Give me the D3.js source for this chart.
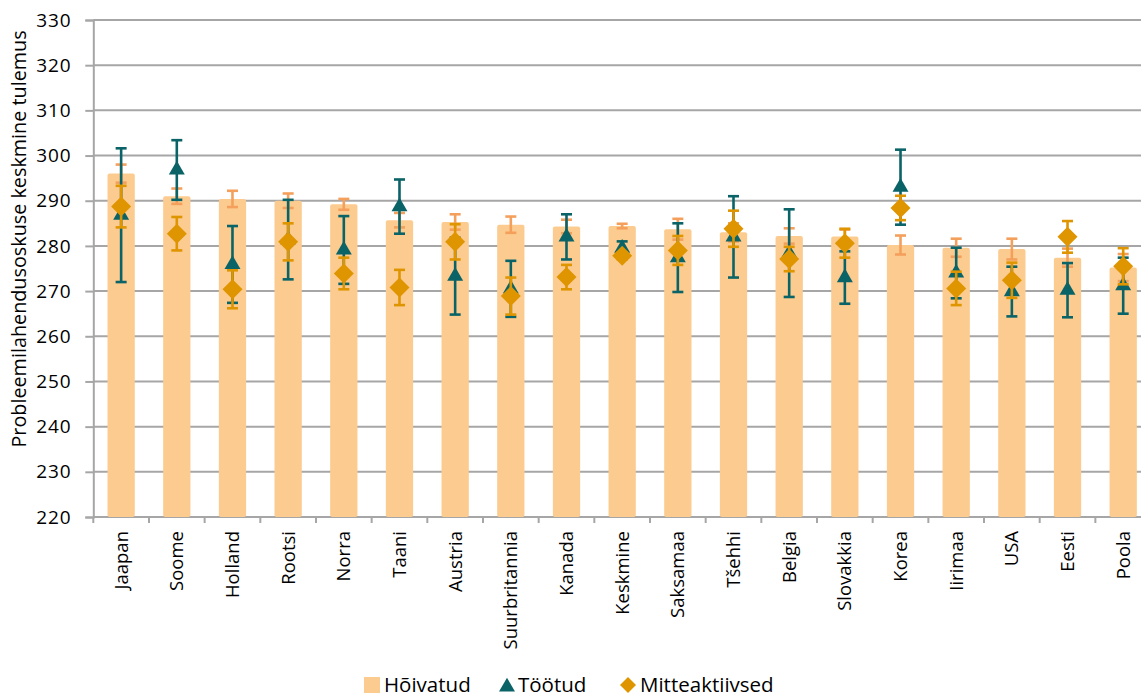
<!DOCTYPE html>
<html>
<head>
<meta charset="utf-8">
<script src="https://cdn.jsdelivr.net/npm/d3@7"></script>
<style>
  html, body { margin: 0; padding: 0; background: #fff; }
  svg text { font-family: "Open Sans", "Noto Sans", sans-serif; fill: #000; }
</style>
</head>
<body>
<svg id="chart" width="1141" height="698"></svg>
<script>
const categories = ["Jaapan","Soome","Holland","Rootsi","Norra","Taani","Austria","Suurbritannia","Kanada","Keskmine","Saksamaa","Tšehhi","Belgia","Slovakkia","Korea","Iirimaa","USA","Eesti","Poola"];
const employed    = [296, 291, 290.4, 290, 289.2, 285.7, 285.3, 284.7, 284.3, 284.4, 283.7, 283, 282.2, 282.1, 280.2, 279.6, 279.3, 277.4, 275.2];
const employedErr = [2, 1.7, 1.8, 1.6, 1.2, 1.6, 1.7, 1.8, 1.5, 0.5, 2.3, 2, 1.7, 1.5, 2.1, 2, 2.3, 2, 3];
const unemployed    = [286.8, 296.8, 275.9, 281.4, 279.1, 288.7, 273.3, 270.5, 282, 279.5, 277.4, 282, 278.4, 273, 293, 274, 269.9, 270.2, 271.2];
const unemployedErr = [14.8, 6.6, 8.5, 8.8, 7.5, 6, 8.5, 6.2, 5, 1.5, 7.6, 9, 9.7, 5.8, 8.3, 5.6, 5.5, 6, 6.2];
const inactive    = [288.7, 282.7, 270.4, 280.9, 273.9, 270.8, 280.9, 268.9, 273.1, 277.8, 279, 283.8, 277.1, 280.6, 288.4, 270.6, 272.4, 282, 275.5];
const inactiveErr = [4.6, 3.7, 4.2, 4.1, 3.5, 3.9, 3.9, 4.1, 2.7, 0.8, 3.2, 4, 2.7, 3.2, 2.7, 3.7, 3.9, 3.5, 4];
const yTicks = [220, 230, 240, 250, 260, 270, 280, 290, 300, 310, 320, 330];
const seriesNames = ["Hõivatud", "Töötud", "Mitteaktiivsed"];

const colBar = "#FCCB8F", colBarErr = "#F4A05C", colTeal = "#0A6367", colOrange = "#DF9500", colGrid = "#A6A6A6";

const svg = d3.select("#chart");
const pLeft = 93.3, pRight = 93.3 + 19 * 55.67, pTop = 20, pBottom = 517;

const x = d3.scaleBand().domain(categories).range([pLeft, pRight]).paddingInner(0.51).paddingOuter(0.255);
const y = d3.scaleLinear().domain([220, 330]).range([pBottom, pTop]);

// gridlines
svg.append("g").selectAll("line").data(yTicks.slice(1)).join("line")
  .attr("x1", pLeft).attr("x2", pRight).attr("y1", d => y(d)).attr("y2", d => y(d))
  .attr("stroke", colGrid).attr("stroke-width", 2);

// y axis
const yAxis = svg.append("g").attr("transform", `translate(${pLeft},0)`)
  .call(d3.axisLeft(y).tickValues(yTicks).tickSize(8).tickPadding(14));
yAxis.select(".domain").attr("stroke", colGrid).attr("stroke-width", 2);
yAxis.selectAll(".tick line").attr("stroke", colGrid).attr("stroke-width", 2);
yAxis.selectAll(".tick text").attr("font-size", 19).attr("letter-spacing", 0.8).attr("font-family", "Open Sans");

// x axis
const xAxisG = svg.append("g").attr("transform", `translate(0,${pBottom})`);
xAxisG.append("line").attr("x1", pLeft).attr("x2", pRight).attr("stroke", colGrid).attr("stroke-width", 2);
const bounds = d3.range(categories.length + 1).map(i => pLeft + i * x.step());
xAxisG.selectAll("line.tk").data(bounds).join("line").attr("class", "tk")
  .attr("x1", d => d).attr("x2", d => d).attr("y1", 0).attr("y2", 6)
  .attr("stroke", colGrid).attr("stroke-width", 2);
xAxisG.selectAll("text").data(categories).join("text")
  .attr("transform", d => `translate(${x(d) + x.bandwidth() / 2 + 6.5},14) rotate(-90)`)
  .attr("text-anchor", "end").attr("font-size", 18.5).text(d => d);

// y title
svg.append("text").attr("transform", "translate(26,239) rotate(-90)")
  .attr("text-anchor", "middle").attr("font-size", 19.8)
  .text("Probleemilahendusoskuse keskmine tulemus");

const cx = i => x(categories[i]) + x.bandwidth() / 2;
const idx = d3.range(categories.length);

// bars
svg.append("g").selectAll("rect").data(idx).join("rect")
  .attr("x", i => x(categories[i])).attr("width", x.bandwidth())
  .attr("y", i => y(employed[i])).attr("height", i => y(220) - y(employed[i]))
  .attr("fill", colBar).attr("rx", 2);

function errBars(vals, errs, color) {
  const g = svg.append("g").attr("stroke", color).attr("stroke-width", 2.6);
  idx.forEach(i => {
    const hi = y(vals[i] + errs[i]), lo = y(vals[i] - errs[i]), c = cx(i);
    g.append("line").attr("x1", c).attr("x2", c).attr("y1", hi).attr("y2", lo);
    g.append("line").attr("x1", c - 5.5).attr("x2", c + 5.5).attr("y1", hi).attr("y2", hi);
    g.append("line").attr("x1", c - 5.5).attr("x2", c + 5.5).attr("y1", lo).attr("y2", lo);
  });
}

errBars(employed, employedErr, colBarErr);

errBars(unemployed, unemployedErr, colTeal);
const tri = d3.symbol().type(d3.symbolTriangle).size(110);
svg.append("g").selectAll("path").data(idx).join("path")
  .attr("d", tri).attr("transform", i => `translate(${cx(i)},${y(unemployed[i])})`)
  .attr("fill", colTeal);

errBars(inactive, inactiveErr, colOrange);
svg.append("g").selectAll("path").data(idx).join("path")
  .attr("d", "M0,-10L10,0L0,10L-10,0Z").attr("transform", i => `translate(${cx(i)},${y(inactive[i])})`)
  .attr("fill", colOrange);

// legend
const lg = svg.append("g").attr("font-size", 20.5);
lg.append("rect").attr("x", 364).attr("y", 677).attr("width", 16).attr("height", 16).attr("fill", colBar);
lg.append("text").attr("x", 384).attr("y", 692).text(seriesNames[0]);
lg.append("path").attr("d", d3.symbol().type(d3.symbolTriangle).size(110)).attr("transform", "translate(507,687)").attr("fill", colTeal);
lg.append("text").attr("x", 518).attr("y", 692).text(seriesNames[1]);
lg.append("path").attr("d", "M0,-8L8,0L0,8L-8,0Z").attr("transform", "translate(628,685)").attr("fill", colOrange);
lg.append("text").attr("x", 640).attr("y", 692).text(seriesNames[2]);
</script>
</body>
</html>
